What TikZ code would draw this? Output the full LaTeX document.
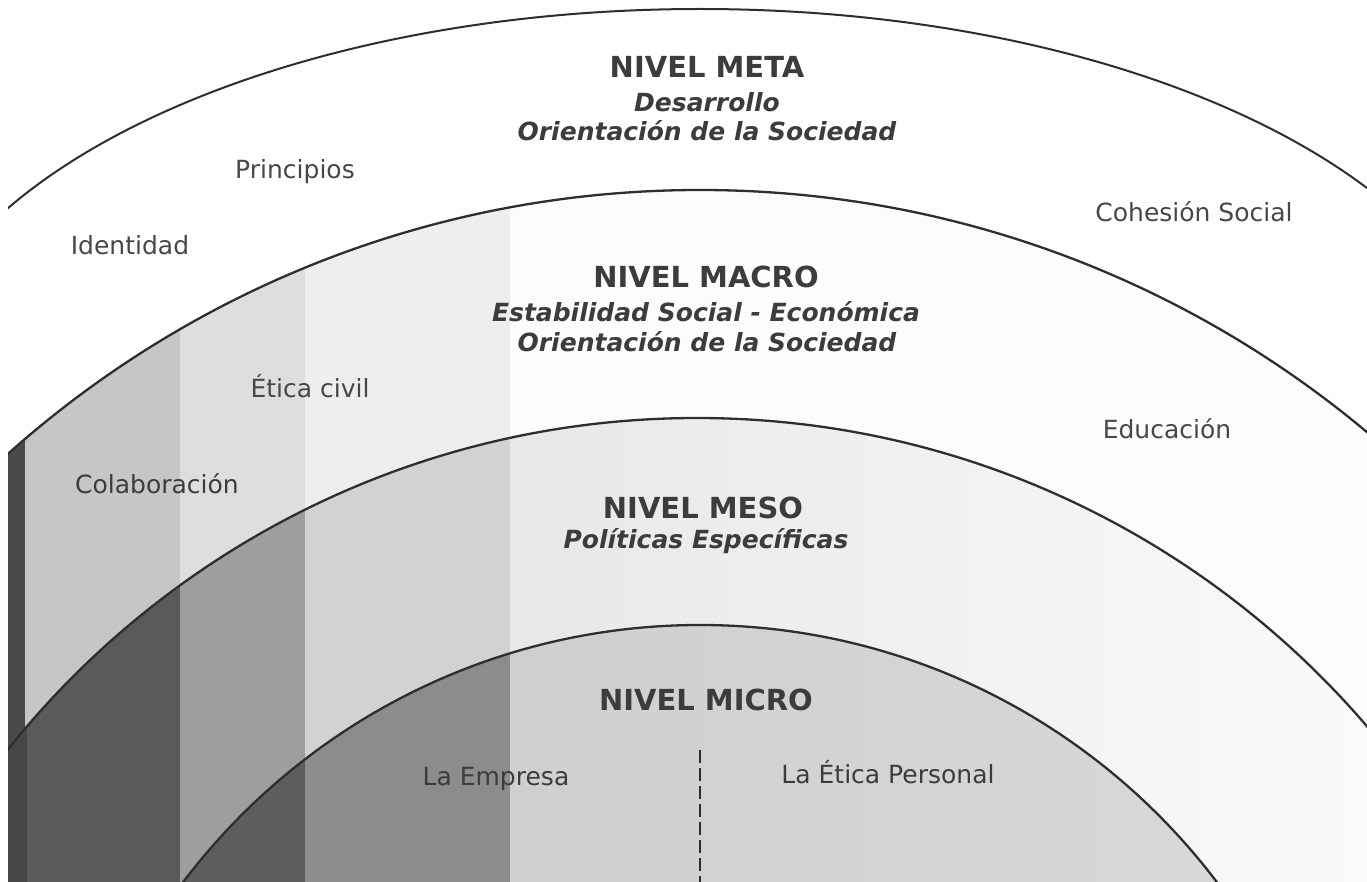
\documentclass[tikz,border=0pt]{standalone}
\usepackage{fontspec}
\setmainfont{DejaVu Sans}
\definecolor{ink}{HTML}{2E2E2E}
\definecolor{txt}{HTML}{3C3C3C}
\definecolor{txtl}{HTML}{474747}
\definecolor{bB0}{HTML}{4A4A4A}
\definecolor{bB1}{HTML}{C6C6C6}
\definecolor{bB2}{HTML}{DEDEDE}
\definecolor{bB3}{HTML}{EEEEEE}
\definecolor{bB4}{HTML}{FCFCFC}
\definecolor{cC0}{HTML}{464646}
\definecolor{cC1}{HTML}{5A5A5A}
\definecolor{cC2}{HTML}{9E9E9E}
\definecolor{cC3}{HTML}{D2D2D2}
\definecolor{cC4a}{HTML}{E8E8E8}
\definecolor{cC4b}{HTML}{FAFAFA}
\definecolor{dD2}{HTML}{5E5E5E}
\definecolor{dD3}{HTML}{8C8C8C}
\definecolor{dD4a}{HTML}{CFCFCF}
\definecolor{dD4b}{HTML}{DADADA}
\tikzset{
  arcline/.style={draw=ink, line width=2.3pt},
  title/.style={anchor=base, inner sep=0pt, text=txt, font=\bfseries\fontsize{29}{34}\selectfont},
  sub/.style={anchor=base, inner sep=0pt, text=txt, font=\bfseries\itshape\fontsize{25}{30}\selectfont},
  lbl/.style={anchor=base, inner sep=0pt, text=txtl, font=\fontsize{25}{30}\selectfont},
  divider/.style={draw=ink, line width=2pt, dash pattern=on 13pt off 5pt}
}
\begin{document}
\begin{tikzpicture}[x=1pt,y=-1pt]
\useasboundingbox (0,0) rectangle (1367,882);
\fill[white] (0,0) rectangle (1367,882);
\begin{scope}
  \clip (8,0) rectangle (1367,882);
  % level B (inside arc 2)
  \begin{scope}
    \clip (700,1229.5) circle[radius=1039.5pt];
    \fill[bB4] (8,0) rectangle (1367,882);
    \fill[bB3] (305,0) rectangle (510,882);
    \fill[bB2] (180,0) rectangle (305,882);
    \fill[bB1] (25,0) rectangle (180,882);
    \fill[bB0] (8,0) rectangle (25,882);
  \end{scope}
  % level C (inside arc 3)
  \begin{scope}
    \clip (697,1300) circle[radius=882pt];
    \shade[left color=cC4a, right color=cC4b] (510,0) rectangle (1367,882);
    \fill[cC3] (305,0) rectangle (510,882);
    \fill[cC2] (180,0) rectangle (305,882);
    \fill[cC1] (27,0) rectangle (180,882);
    \fill[cC0] (8,0) rectangle (27,882);
  \end{scope}
  % level D (inside arc 4)
  \begin{scope}
    \clip (700,1273) circle[radius=648pt];
    \shade[left color=dD4a, right color=dD4b] (510,0) rectangle (1367,882);
    \fill[dD3] (305,0) rectangle (510,882);
    \fill[dD2] (180,0) rectangle (305,882);
  \end{scope}
  % the four boundaries
  \begin{scope}
    \clip (8,0) rectangle (1367,409);
    \draw[arcline, line width=2pt] (700,409) ellipse[x radius=800pt, y radius=400pt];
  \end{scope}
  \draw[arcline] (700,1229.5) circle[radius=1039.5pt];
  \draw[arcline] (697,1300) circle[radius=882pt];
  \draw[arcline] (700,1273) circle[radius=648pt];
\end{scope}

% NIVEL META
\node[title] (meta) at (707,78) {NIVEL META};
\node[sub] (metaA) at (707,112) {Desarrollo};
\node[sub] (metaB) at (707,141) {Orientación de la Sociedad};
\node[lbl] (principios) at (295,179) {Principios};
\node[lbl] (identidad) at (130,255) {Identidad};
\node[lbl] (cohesion) at (1194,222) {Cohesión Social};

% NIVEL MACRO
\node[title] (macro) at (706,288) {NIVEL MACRO};
\node[sub] (macroA) at (706,322) {Estabilidad Social - Económica};
\node[sub] (macroB) at (707,352) {Orientación de la Sociedad};
\node[lbl] (etica) at (310,397) {Ética civil};
\node[lbl] (educacion) at (1167,438) {Educación};
\node[lbl, text=txt] (colab) at (157,493) {Colaboración};

% NIVEL MESO
\node[title] (meso) at (703,518) {NIVEL MESO};
\node[sub] (mesoA) at (706,548) {Políticas Específicas};

% NIVEL MICRO
\node[title] (micro) at (706,710) {NIVEL MICRO};
\node[lbl, text=txt] (empresa) at (496,785) {La Empresa};
\node[lbl, text=txt] (personal) at (888,783) {La Ética Personal};

\coordinate (divtop) at (700,750);
\coordinate (divbot) at (700,882);
\draw[divider] (divtop) -- (divbot);
\end{tikzpicture}
\end{document}
